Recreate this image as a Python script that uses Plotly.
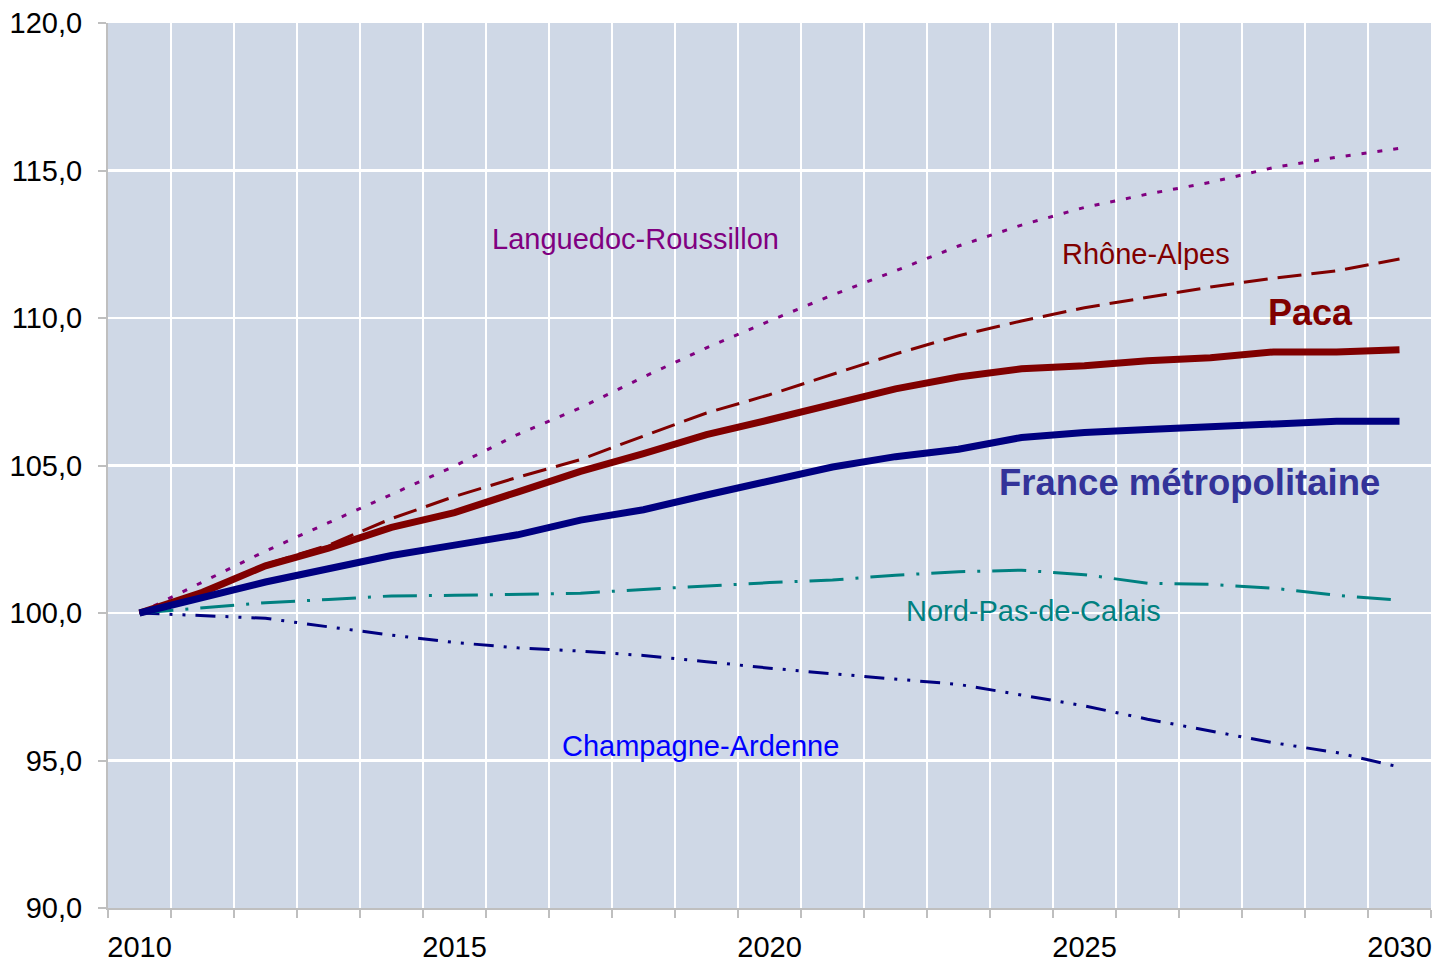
import plotly.graph_objects as go

years = list(range(2010, 2031))

france = [100.0, 100.55, 101.05, 101.5, 101.95, 102.3, 102.65, 103.15, 103.5, 104.0, 104.5,
          104.95, 105.3, 105.55, 105.95, 106.12, 106.22, 106.3, 106.4, 106.5, 106.5]
paca = [100.0, 100.7, 101.6, 102.2, 102.9, 103.4, 104.1, 104.8, 105.4, 106.05, 106.55,
        107.1, 107.6, 108.0, 108.28, 108.38, 108.55, 108.65, 108.85, 108.85, 108.92]
rhone_alpes = [100.0, 100.7, 101.65, 102.3, 103.2, 103.95, 104.6, 105.2, 106.0, 106.78, 107.4,
               108.1, 108.78, 109.4, 109.9, 110.35, 110.7, 111.05, 111.35, 111.6, 112.0]
languedoc = [100.0, 101.05, 102.1, 103.06, 104.02, 104.98, 106.05, 106.96, 108.0, 108.99, 109.9,
             110.78, 111.6, 112.44, 113.15, 113.75, 114.2, 114.6, 115.1, 115.45, 115.75]
nord_pdc = [100.0, 100.18, 100.35, 100.46, 100.58, 100.6, 100.63, 100.67, 100.8, 100.92, 101.03,
            101.12, 101.28, 101.4, 101.45, 101.3, 101.01, 100.97, 100.84, 100.6, 100.43]
champagne = [100.0, 99.9, 99.82, 99.53, 99.25, 99.0, 98.82, 98.71, 98.56, 98.35, 98.13,
             97.94, 97.75, 97.58, 97.22, 96.85, 96.4, 96.0, 95.6, 95.27, 94.78]

x_tick_vals = [2010, 2015, 2020, 2025, 2030]
x_tick_text = ["2010", "2015", "2020", "2025", "2030"]
y_tick_vals = [90, 95, 100, 105, 110, 115, 120]

FONT = "Liberation Sans, Arial, sans-serif"

fig = go.Figure()

fig.add_trace(go.Scatter(x=years, y=champagne, mode="lines", name="Champagne-Ardenne",
                         line=dict(color="#000080", width=3, dash="20px,10px,3px,10px,3px,10px")))
fig.add_trace(go.Scatter(x=years, y=nord_pdc, mode="lines", name="Nord-Pas-de-Calais",
                         line=dict(color="#008080", width=3, dash="34px,12px,3px,12px")))
fig.add_trace(go.Scatter(x=years, y=languedoc, mode="lines", name="Languedoc-Roussillon",
                         line=dict(color="#800080", width=3, dash="5px,11px")))
fig.add_trace(go.Scatter(x=years, y=paca, mode="lines", name="Paca",
                         line=dict(color="#800000", width=7)))
fig.add_trace(go.Scatter(x=years, y=rhone_alpes, mode="lines", name="Rhône-Alpes",
                         line=dict(color="#800000", width=3, dash="24px,10px")))
fig.add_trace(go.Scatter(x=years, y=france, mode="lines", name="France métropolitaine",
                         line=dict(color="#000080", width=7)))

labels = [
    ("Languedoc-Roussillon", 2017.88, 112.68, "#800080", 29, False),
    ("Rhône-Alpes", 2025.98, 112.17, "#800000", 29, False),
    ("Paca", 2028.58, 110.17, "#800000", 36, True),
    ("France métropolitaine", 2026.66, 104.44, "#333399", 36.5, True),
    ("Nord-Pas-de-Calais", 2024.19, 100.07, "#008080", 29, False),
    ("Champagne-Ardenne", 2018.9, 95.49, "#0000FF", 29, False),
]
for txt, ax_, ay_, col, sz, bold in labels:
    fig.add_annotation(x=ax_, y=ay_, xref="x", yref="y", text=f"<b>{txt}</b>" if bold else txt,
                       showarrow=False, xanchor="center", yanchor="middle",
                       font=dict(family=FONT, size=sz, color=col))

fig.update_layout(
    width=1438, height=966,
    margin=dict(l=108, r=7, t=23, b=58, autoexpand=False),
    paper_bgcolor="white",
    plot_bgcolor="#CFD8E6",
    showlegend=False,
    separators=", ",
    font=dict(family=FONT, size=29, color="black"),
)

fig.update_xaxes(
    range=[2009.5, 2030.5], automargin=False,
    tickmode="array", tickvals=x_tick_vals, ticktext=x_tick_text,
    ticks="", showgrid=False, zeroline=False,
    showline=True, linecolor="#BFBFBF", linewidth=2,
    tickfont=dict(family=FONT, size=29, color="black"),
    ticklabelstandoff=12,
    minor=dict(tick0=2009.5, dtick=1, ticks="outside", ticklen=8, tickcolor="#BFBFBF",
               tickwidth=2, showgrid=True, gridcolor="white", gridwidth=2.5),
)
fig.update_yaxes(
    range=[90, 120], automargin=False,
    tickmode="array", tickvals=y_tick_vals, tickformat=".1f",
    ticks="outside", ticklen=8, tickcolor="#BFBFBF", tickwidth=2,
    showgrid=True, gridcolor="white", gridwidth=2.5, zeroline=False,
    showline=True, linecolor="#BFBFBF", linewidth=2,
    tickfont=dict(family=FONT, size=29, color="black"),
    ticklabelstandoff=10,
)

fig.write_html("out.html",
               config={"displayModeBar": False, "staticPlot": True},
               post_script="document.body.style.margin='0';document.body.style.overflow='hidden';")
